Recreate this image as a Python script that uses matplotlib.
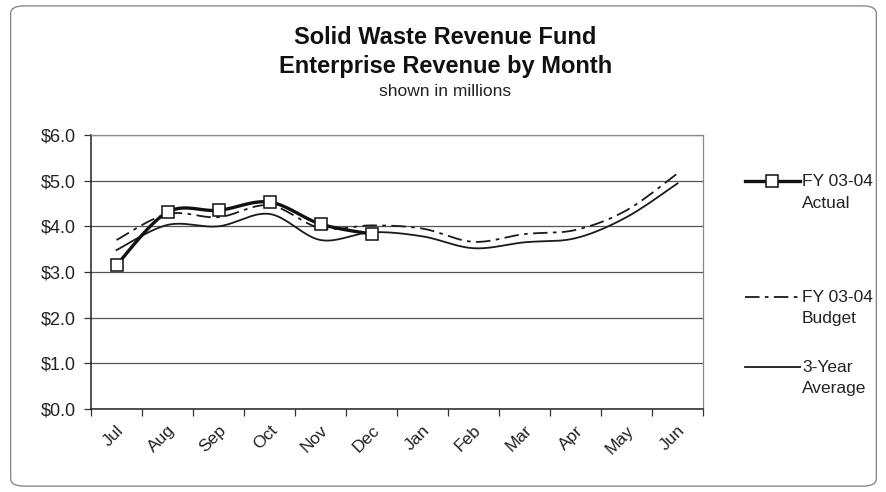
import numpy as np
import matplotlib
matplotlib.use("Agg")
import matplotlib.pyplot as plt
import matplotlib.transforms as mtransforms
from matplotlib.patches import FancyBboxPatch
from matplotlib.lines import Line2D

months = ["Jul", "Aug", "Sep", "Oct", "Nov", "Dec", "Jan", "Feb", "Mar", "Apr", "May", "Jun"]
actual = [3.15, 4.31, 4.35, 4.53, 4.05, 3.83]
budget = [3.70, 4.27, 4.20, 4.46, 3.96, 4.02, 3.95, 3.66, 3.83, 3.92, 4.35, 5.16]
three_year = [3.48, 4.03, 4.00, 4.27, 3.70, 3.87, 3.78, 3.52, 3.65, 3.74, 4.20, 4.94]
y_ticks = [0, 1, 2, 3, 4, 5, 6]
y_labels = ["$0.0", "$1.0", "$2.0", "$3.0", "$4.0", "$5.0", "$6.0"]

plt.rcParams['font.family'] = ['Liberation Sans', 'DejaVu Sans']


def smooth(xs, ys, n=20):
    """Excel-like smoothed line: cubic Bezier with Catmull-Rom tangents."""
    xs = np.asarray(xs, float)
    ys = np.asarray(ys, float)
    px, py = [], []
    m = len(xs)
    for i in range(m - 1):
        p0 = (xs[max(i - 1, 0)], ys[max(i - 1, 0)])
        p1 = (xs[i], ys[i])
        p2 = (xs[i + 1], ys[i + 1])
        p3 = (xs[min(i + 2, m - 1)], ys[min(i + 2, m - 1)])
        c1 = (p1[0] + (p2[0] - p0[0]) / 6, p1[1] + (p2[1] - p0[1]) / 6)
        c2 = (p2[0] - (p3[0] - p1[0]) / 6, p2[1] - (p3[1] - p1[1]) / 6)
        t = np.linspace(0, 1, n, endpoint=(i == m - 2))
        a = (1 - t) ** 3
        b = 3 * (1 - t) ** 2 * t
        c = 3 * (1 - t) * t ** 2
        d = t ** 3
        px.extend(a * p1[0] + b * c1[0] + c * c2[0] + d * p2[0])
        py.extend(a * p1[1] + b * c1[1] + c * c2[1] + d * p2[1])
    return np.array(px), np.array(py)


fig = plt.figure(figsize=(8.87, 4.92), dpi=100)

# rounded border around chart
border = FancyBboxPatch((0.012, 0.012), 0.976, 0.976,
                        boxstyle="round,pad=0,rounding_size=0.015",
                        transform=fig.transFigure, fill=False,
                        edgecolor="#8a8a8a", linewidth=1.0)
fig.patches.append(border)

ax = fig.add_axes([0.1026, 0.1687, 0.690, 0.557])

x = np.arange(len(months))
xa = x[:len(actual)]

sx, sy = smooth(x, three_year)
ax.plot(sx, sy, color="#1a1a1a", lw=1.3, zorder=3)
sx, sy = smooth(x, budget)
ax.plot(sx, sy, color="#1a1a1a", lw=1.3, dashes=(8, 3, 2, 3), zorder=3)
sx, sy = smooth(xa, actual)
ax.plot(sx, sy, color="#111111", lw=2.4, zorder=4)
ax.plot(xa, actual, linestyle="none", marker="s", markersize=8.5,
        markerfacecolor="white", markeredgecolor="#111111", markeredgewidth=1.1, zorder=5)

ax.set_xlim(-0.5, len(months) - 0.5)
ax.set_ylim(0, 6)
ax.set_yticks(y_ticks)
ax.set_yticklabels(y_labels, fontsize=13, color="#222222")
ax.yaxis.grid(True, color="#555555", lw=0.9)
ax.set_axisbelow(True)

ax.set_xticks(np.arange(-0.5, len(months), 1.0))
ax.set_xticklabels([])
ax.set_xticks(x, minor=True)
ax.set_xticklabels(months, minor=True, rotation=45, ha="right", va="top",
                   rotation_mode="anchor", fontsize=12.5, color="#222222")
offset = mtransforms.ScaledTranslation(-10 / 100, 0, fig.dpi_scale_trans)
for lab in ax.get_xticklabels(minor=True):
    lab.set_transform(lab.get_transform() + offset)
ax.tick_params(axis="x", which="major", direction="out", length=5, width=0.9, color="#333333")
ax.tick_params(axis="x", which="minor", length=0, pad=10)
ax.tick_params(axis="y", direction="out", length=5, width=0.9, color="#333333", pad=6)

for s in ["left", "bottom"]:
    ax.spines[s].set_color("#222222")
    ax.spines[s].set_linewidth(1.1)
for s in ["top", "right"]:
    ax.spines[s].set_color("#888888")
    ax.spines[s].set_linewidth(0.9)

# titles
fig.text(0.502, 1 - 38 / 492, "Solid Waste Revenue Fund", ha="center", va="center",
         fontsize=17, fontweight="bold", color="#111111")
fig.text(0.502, 1 - 66 / 492, "Enterprise Revenue by Month", ha="center", va="center",
         fontsize=17, fontweight="bold", color="#111111")
fig.text(0.502, 1 - 91 / 492, "shown in millions", ha="center", va="center",
         fontsize=12.5, color="#222222")

# legend (manual, Excel style)
lx0, lx1 = 745 / 887, 800 / 887
tx = 802 / 887
entries = [
    (181, "FY 03-04", "Actual", dict(color="#111111", lw=2.4), True),
    (297, "FY 03-04", "Budget", dict(color="#1a1a1a", lw=1.3, dashes=(8, 3, 2, 3)), False),
    (367, "3-Year", "Average", dict(color="#1a1a1a", lw=1.3), False),
]
for ypix, l1, l2, style, mk in entries:
    yy = 1 - ypix / 492
    ln = Line2D([lx0, lx1], [yy, yy], transform=fig.transFigure, **style)
    fig.lines.append(ln)
    if mk:
        m = Line2D([(lx0 + lx1) / 2], [yy], transform=fig.transFigure, marker="s",
                   markersize=8, markerfacecolor="white", markeredgecolor="#111111",
                   markeredgewidth=1.1, linestyle="none")
        fig.lines.append(m)
    fig.text(tx, yy, l1, ha="left", va="center", fontsize=12.5, color="#222222")
    fig.text(tx, yy - 22 / 492, l2, ha="left", va="center", fontsize=12.5, color="#222222")

fig.savefig("out.png", dpi=100)
